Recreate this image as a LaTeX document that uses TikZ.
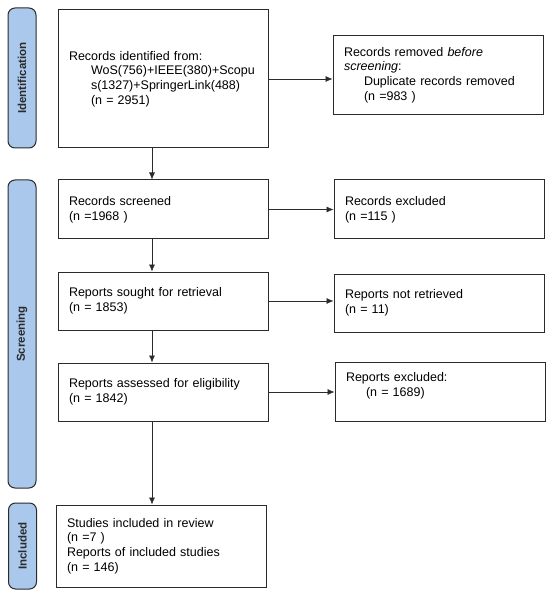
\documentclass[tikz,border=0pt]{standalone}
\usepackage{fontspec}
\setmainfont{Liberation Sans}
\usepackage{xcolor}
\usetikzlibrary{arrows.meta}
\definecolor{pdarkgray}{HTML}{2b2b2b}
\definecolor{pblue}{HTML}{A9C8EC}

\tikzset{
	phasebar/.style={draw=pdarkgray, fill=pblue, line width=1pt, rounded corners=7pt, minimum width=28pt},
	phaselabel/.style={rotate=90, font=\fontsize{11.5}{14}\selectfont\bfseries, text=pdarkgray},
	recbox/.style={draw=pdarkgray, line width=1pt, minimum width=210pt, inner xsep=11pt, text width=188pt, align=left, font=\fontsize{12.5}{14.8}\selectfont, text=black},
	flow/.style={color=pdarkgray, line width=0.6pt, -{Latex[length=7pt,width=6pt]}}
}

\begin{document}
\begin{tikzpicture}[x=1pt, y=-1pt]
		\useasboundingbox (0,0) rectangle (550,593);
		% phase bars
		\node[phasebar, minimum height=140pt] (idbar) at (22,78) {};
		\node[phasebar, minimum height=308pt] (scbar) at (22,334) {};
		\node[phasebar, minimum height=86pt] (inbar) at (22.5,546) {};
		\node[phaselabel] (idtext) at (idbar) {Identification};
		\node[phaselabel] (sctext) at (scbar) {Screening};
		\node[phaselabel] (intext) at (inbar) {Included};
		% left column
		\node[recbox, minimum height=138pt] (ident) at (163,79) {Records identified from:\\\hspace*{22pt}WoS(756)+IEEE(380)+Scopu\\\hspace*{22pt}s(1327)+SpringerLink(488)\\\hspace*{22pt}(n = 2951)};
		\node[recbox, minimum height=59pt] (screened) at (163,209.5) {Records screened\\(n =1968 )};
		\node[recbox, minimum height=58pt] (sought) at (163,301) {Reports sought for retrieval\\(n = 1853)};
		\node[recbox, minimum height=58pt] (assessed) at (163,392) {Reports assessed for eligibility\\(n = 1842)};
		\node[recbox, minimum height=82pt] (included) at (161,546) {Studies included in review\\(n =7 )\\Reports of included studies\\(n = 146)};
		% right column
		\node[recbox, minimum height=79pt] (removed) at (438,75) {Records removed \emph{before}\\\emph{screening}:\\\hspace*{20pt}Duplicate records removed\\\hspace*{20pt}(n =983 )};
		\node[recbox, minimum height=59pt] (excluded) at (439,209.5) {Records excluded\\(n =115 )};
		\node[recbox, minimum height=58pt] (notret) at (439,303) {Reports not retrieved\\(n = 11)};
		\node[recbox, minimum height=59pt] (repexcl) at (440,391.5) {Reports excluded:\\\hspace*{20pt}(n = 1689)\\\mbox{}};
		% connectors
		\coordinate (vx) at (152,0);
		\draw[flow] (ident.south -| vx) -- (screened.north -| vx);
		\draw[flow] (screened.south -| vx) -- (sought.north -| vx);
		\draw[flow] (sought.south -| vx) -- (assessed.north -| vx);
		\draw[flow] (assessed.south -| vx) -- (included.north -| vx);
		\draw[flow] (ident.east) -- (removed.west |- ident.east);
		\draw[flow] (screened.east) -- (excluded.west |- screened.east);
		\draw[flow] (sought.east) -- (notret.west |- sought.east);
		\draw[flow] (assessed.east) -- (repexcl.west |- assessed.east);
	\end{tikzpicture}
\end{document}
